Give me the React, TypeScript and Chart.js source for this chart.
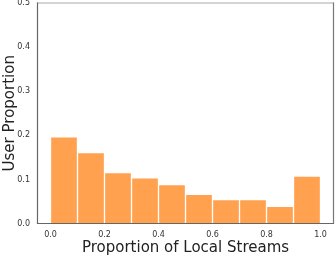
import React, { useEffect, useRef } from "react";
import { Chart, registerables } from "chart.js";

Chart.register(...registerables);

const binCenters = [0.05, 0.15, 0.25, 0.35, 0.45, 0.55, 0.65, 0.75, 0.85, 0.95];
const userProportion = [0.197, 0.161, 0.116, 0.104, 0.089, 0.067, 0.055, 0.055, 0.04, 0.108];
const xTicks = [0, 0.2, 0.4, 0.6, 0.8, 1.0];
const yTicks = [0, 0.1, 0.2, 0.3, 0.4, 0.5];

const framePlugin = {
  id: "frame",
  afterDatasetsDraw(chart: any) {
    const { ctx, chartArea } = chart;
    const { left, right, top, bottom } = chartArea;
    ctx.save();
    ctx.lineWidth = 1.2;
    ctx.strokeStyle = "#aaaaaa";
    ctx.beginPath();
    ctx.moveTo(left, top + 0.5);
    ctx.lineTo(right, top + 0.5);
    ctx.stroke();
    ctx.strokeStyle = "#777777";
    ctx.beginPath();
    ctx.moveTo(right - 0.5, top);
    ctx.lineTo(right - 0.5, bottom);
    ctx.stroke();
    ctx.strokeStyle = "#666666";
    ctx.beginPath();
    ctx.moveTo(left + 0.5, top);
    ctx.lineTo(left + 0.5, bottom);
    ctx.moveTo(left, bottom - 0.5);
    ctx.lineTo(right, bottom - 0.5);
    ctx.stroke();
    ctx.restore();
  },
};

export default function App() {
  const ref = useRef<HTMLCanvasElement>(null);
  useEffect(() => {
    document.body.style.margin = "0";
    const chart = new Chart(ref.current!, {
      type: "bar",
      data: {
        datasets: [
          {
            data: binCenters.map((x, i) => ({ x, y: userProportion[i] })),
            backgroundColor: "#FFA14E",
            borderColor: "rgba(255,255,255,0.75)",
            borderWidth: 1,
            borderSkipped: false,
            barPercentage: 1,
            categoryPercentage: 1,
          },
        ],
      },
      options: {
        animation: false,
        responsive: false,
        maintainAspectRatio: false,
        layout: { padding: { top: 2.5, right: 2, left: 0, bottom: 0 } },
        plugins: { legend: { display: false }, tooltip: { enabled: false } },
        scales: {
          x: {
            type: "linear",
            min: -0.05,
            max: 1.05,
            offset: false,
            grid: { display: false, drawTicks: false },
            border: { display: false },
            afterBuildTicks: (s: any) => {
              s.ticks = xTicks.map((v) => ({ value: v }));
            },
            afterFit: (s: any) => {
              s.height = 33;
              s.paddingLeft = 0;
              s.paddingRight = 0;
            },
            ticks: {
              autoSkip: false,
              maxRotation: 0,
              padding: 6,
              color: "#333333",
              font: { family: "DejaVu Sans", size: 8 },
              callback: (v: any) => Number(v).toFixed(1),
            },
            title: {
              display: true,
              text: "Proportion of Local Streams",
              color: "#222222",
              font: { family: "DejaVu Sans", size: 15 },
              padding: { top: 0, bottom: 0 },
            },
          },
          y: {
            min: 0,
            max: 0.5,
            grid: { display: false, drawTicks: false },
            border: { display: false },
            afterBuildTicks: (s: any) => {
              s.ticks = yTicks.map((v) => ({ value: v }));
            },
            afterFit: (s: any) => {
              s.width = 37;
              s.paddingTop = 0;
              s.paddingBottom = 0;
            },
            ticks: {
              padding: 7,
              color: "#333333",
              font: { family: "DejaVu Sans", size: 8 },
              callback: (v: any) => Number(v).toFixed(1),
            },
            title: {
              display: true,
              text: "User Proportion",
              color: "#222222",
              font: { family: "DejaVu Sans", size: 15 },
              padding: { top: 1, bottom: 0 },
            },
          },
        },
      },
      plugins: [framePlugin],
    });
    return () => chart.destroy();
  }, []);
  return <canvas ref={ref} width={336} height={257} style={{ display: "block" }} />;
}
